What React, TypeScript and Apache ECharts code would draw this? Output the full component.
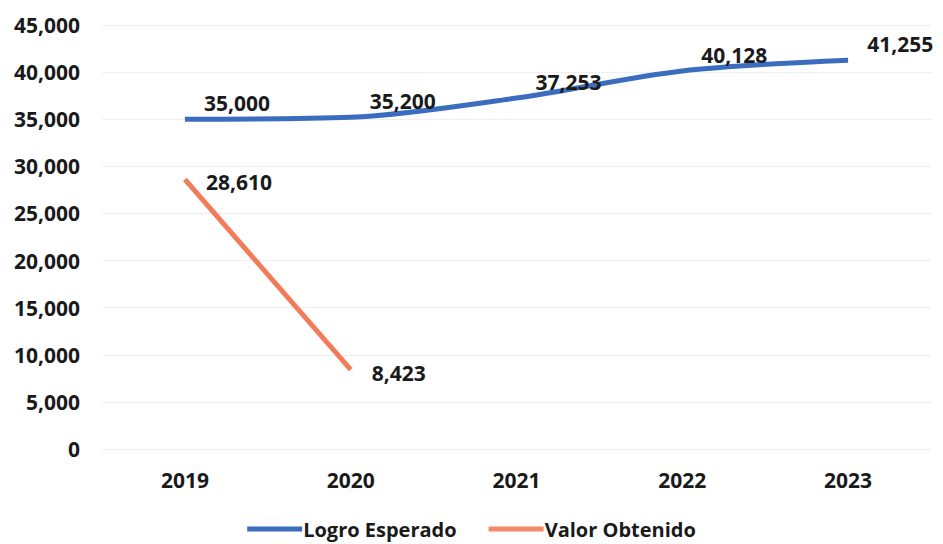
import React, { useEffect, useRef } from "react";
import * as echarts from "echarts";

const categories = ["2019", "2020", "2021", "2022", "2023"];
const logroEsperado = [35000, 35200, 37253, 40128, 41255];
const valorObtenido: (number | null)[] = [28610, 8423, null, null, null];
const yTicks = { min: 0, max: 45000, interval: 5000 };

const FONT = "'Open Sans', sans-serif";

export default function App() {
  const ref = useRef<HTMLDivElement>(null);
  useEffect(() => {
    if (!ref.current) return;
    const chart = echarts.init(ref.current, null, { renderer: "svg" });
    const labelStyle = {
      show: true,
      position: "right" as const,
      fontFamily: FONT,
      fontWeight: "bold" as const,
      fontSize: 21,
      color: "#1a1a1a",
      formatter: (p: any) => Number(p.value).toLocaleString("en-US"),
    };
    chart.setOption({
      animation: false,
      backgroundColor: "#ffffff",
      grid: { left: 102, right: 12, top: 25, bottom: 95 },
      legend: {
        bottom: 0,
        left: "center",
        itemWidth: 55,
        itemHeight: 5,
        itemGap: 32,
        icon: "rect",
        textStyle: { fontFamily: FONT, fontWeight: "bold", fontSize: 20, color: "#1a1a1a", padding: [0, 0, 0, -4] },
        data: ["Logro Esperado", "Valor Obtenido"],
      },
      xAxis: {
        type: "category",
        data: categories,
        axisLine: { show: false },
        axisTick: { show: false },
        axisLabel: { fontFamily: FONT, fontWeight: "bold", fontSize: 21, color: "#1a1a1a", margin: 20 },
      },
      yAxis: {
        type: "value",
        min: yTicks.min,
        max: yTicks.max,
        interval: yTicks.interval,
        axisLine: { show: false },
        axisTick: { show: false },
        splitLine: { lineStyle: { color: "#eeeeee", width: 1 } },
        axisLabel: {
          fontFamily: FONT,
          fontWeight: "bold",
          fontSize: 21,
          color: "#1a1a1a",
          margin: 22,
          formatter: (v: number) => v.toLocaleString("en-US"),
        },
      },
      series: [
        {
          name: "Logro Esperado",
          type: "line",
          data: logroEsperado,
          smooth: 0.3,
          showSymbol: true,
          symbol: "circle",
          symbolSize: 0.1,
          lineStyle: { color: "#3B6DBE", width: 5 },
          itemStyle: { color: "#3B6DBE" },
          label: { ...labelStyle, offset: [14, -16] },
        },
        {
          name: "Valor Obtenido",
          type: "line",
          data: valorObtenido,
          showSymbol: true,
          symbol: "circle",
          symbolSize: 0.1,
          lineStyle: { color: "#F27C5A", width: 5 },
          itemStyle: { color: "#F5896B" },
          label: { ...labelStyle, offset: [16, 3] },
        },
      ],
    });
    return () => chart.dispose();
  }, []);
  return <div ref={ref} style={{ width: 943, height: 544, position: "absolute", left: 0, top: 0 }} />;
}
